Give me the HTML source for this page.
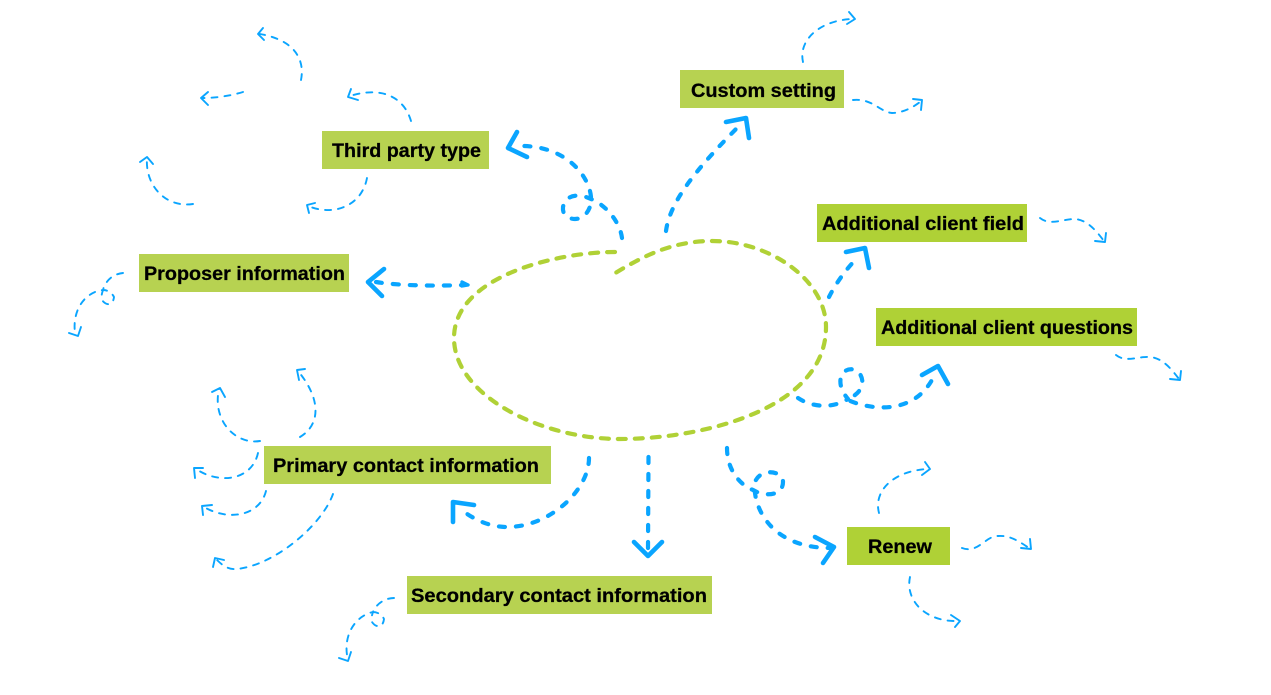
<!DOCTYPE html>
<html>
<head>
<meta charset="utf-8">
<style>
html,body{margin:0;padding:0;background:#fff;width:1271px;height:695px;overflow:hidden}
svg{display:block}
text{font-family:"Liberation Sans",sans-serif;font-weight:700;font-size:19.7px;fill:#000;stroke:#000;stroke-width:.25px}
.g{fill:none;stroke:#b0d136;stroke-width:4.2;stroke-dasharray:8 9;stroke-linecap:round}
.t{fill:none;stroke:#0aa5ff;stroke-width:4.2;stroke-dasharray:6 11;stroke-linecap:round;stroke-linejoin:round}
.h{fill:none;stroke:#0aa5ff;stroke-width:4.6;stroke-linecap:round;stroke-linejoin:round}
.n{fill:none;stroke:#0aa5ff;stroke-width:1.9;stroke-dasharray:6 7;stroke-linecap:round;stroke-linejoin:round}
.m{fill:none;stroke:#0aa5ff;stroke-width:1.9;stroke-linecap:round;stroke-linejoin:round}
</style>
</head>
<body>
<svg width="1271" height="695" viewBox="0 0 1271 695" xmlns="http://www.w3.org/2000/svg">
<!-- central blob -->
<path class="g" d="M615 252C560 252 454 275 454 338C454 395 540 439 620 439C700 439 826 410 826 327C826 280 770 241 712 241C670 241 640 258 612 275"/>

<!-- boxes -->
<rect x="322" y="131" width="167" height="38" fill="#b7d251"/>
<rect x="139" y="254" width="210" height="38" fill="#b7d251"/>
<rect x="680" y="70" width="164" height="38" fill="#b7d251"/>
<rect x="817" y="204" width="210" height="38" fill="#afd136"/>
<rect x="876" y="308" width="261" height="38" fill="#afd136"/>
<rect x="847" y="527" width="103" height="38" fill="#afd136"/>
<rect x="264" y="446" width="287" height="38" fill="#b7d251"/>
<rect x="407" y="576" width="305" height="38" fill="#b7d251"/>

<text x="332" y="157" textLength="149" lengthAdjust="spacingAndGlyphs">Third party type</text>
<text x="144" y="280" textLength="201" lengthAdjust="spacingAndGlyphs">Proposer information</text>
<text x="691" y="97" textLength="145" lengthAdjust="spacingAndGlyphs">Custom setting</text>
<text x="822" y="230" textLength="202" lengthAdjust="spacingAndGlyphs">Additional client field</text>
<text x="881" y="334" textLength="252" lengthAdjust="spacingAndGlyphs">Additional client questions</text>
<text x="868" y="553" textLength="64" lengthAdjust="spacingAndGlyphs">Renew</text>
<text x="273" y="472" textLength="266" lengthAdjust="spacingAndGlyphs">Primary contact information</text>
<text x="411" y="602" textLength="296" lengthAdjust="spacingAndGlyphs">Secondary contact information</text>

<!-- thick connectors -->
<path class="t" d="M622 238C620 222 606 205 591 199C581 194 566 193 563 207C562 216 570 219 575 219C583 219 592 211 591 197C589 175 565 145 519 146"/>
<path class="h" d="M517 132L508 148L527 157"/>

<path class="t" d="M666 231C670 200 700 165 741 124"/>
<path class="h" d="M726 122L746 118L749 138"/>

<path class="t" d="M829 297C835 285 845 270 859 256"/>
<path class="h" d="M846 252L865 248L869 268"/>

<path class="t" d="M798 398C810 406 830 410 848 399C842 392 839 384 841 377C843 370 850 368 855 370C862 373 864 382 861 388C858 394 852 397 848 400C870 410 915 416 934 376"/>
<path class="h" d="M922 375L938 366L948 384"/>

<path class="t" d="M648.500 457L648 548"/>
<path class="h" d="M634 542L648 556L662 542"/>

<path class="t" d="M727 448C727 470 740 485 753 490C765 497 783 496 783 482C783 470 760 468 755 482C752 500 765 548 831 548"/>
<path class="h" d="M815 537L834 547L823 563"/>

<path class="t" d="M589 458C589 490 550 527 507 527C490 527 475 520 463 511"/>
<path class="h" d="M474 505L453 502L453 522"/>

<path class="t" d="M376 282C400 286 440 286 464 285"/>
<path class="h" d="M384 269L368 282L382 296"/>
<path class="h" d="M462 282L468 285L462 286" style="stroke-width:3.400"/>

<!-- thin connectors -->
<path class="n" d="M301 80C305 60 295 40 260 34"/>
<path class="m" d="M263 28L258 34L264 40"/>

<path class="n" d="M243 92C230 96 215 98 203 98"/>
<path class="m" d="M208 92L201 98L208 105"/>

<path class="n" d="M411 121C405 100 385 85 350 96"/>
<path class="m" d="M351 89L348 97L358 100"/>

<path class="n" d="M193 204C165 208 145 185 147 158"/>
<path class="m" d="M140 162L147 157L153 164"/>

<path class="n" d="M367 178C362 205 335 217 308 206"/>
<path class="m" d="M315 203L307 205L309 213"/>

<path class="n" d="M123 273C112 274 105 282 103 290C108 290 112 293 114 297C113 306 106 306 102 300C101 296 102 293 103 290C85 292 72 310 75 333"/>
<path class="m" d="M69 333L78 336L81 327"/>

<path class="n" d="M803 62C798 40 820 20 853 19"/>
<path class="m" d="M849 12L855 19L847 24"/>

<path class="n" d="M853 100C872 98 880 112 892 113C902 113 912 108 920 102"/>
<path class="m" d="M913 99L922 100L921 110"/>

<path class="n" d="M1040 218C1050 226 1062 219 1075 219C1088 220 1097 232 1104 241"/>
<path class="m" d="M1095 241L1105 242L1106 233"/>

<path class="n" d="M1116 355C1126 363 1138 356 1150 357C1163 358 1172 370 1179 379"/>
<path class="m" d="M1170 379L1180 380L1181 371"/>

<path class="n" d="M879 513C873 490 895 470 929 469"/>
<path class="m" d="M925 462L930 469L922 475"/>

<path class="n" d="M962 548C978 554 985 536 998 536C1010 535 1020 542 1029 548"/>
<path class="m" d="M1030 539L1031 549L1021 548"/>

<path class="n" d="M910 577C905 600 925 622 958 621"/>
<path class="m" d="M951 615L960 621L955 627"/>

<path class="n" d="M300 437C320 425 322 400 298 371"/>
<path class="m" d="M305 369L297 370L299 380"/>

<path class="n" d="M260 441C235 445 212 420 219 389"/>
<path class="m" d="M212 392L220 388L225 397"/>

<path class="n" d="M258 453C252 480 220 485 196 469"/>
<path class="m" d="M203 468L194 468L195 478"/>

<path class="n" d="M266 491C260 515 230 522 204 507"/>
<path class="m" d="M212 505L202 506L203 515"/>

<path class="n" d="M333 494C322 525 275 565 237 569C228 570 222 565 216 559"/>
<path class="m" d="M224 560L215 558L213 567"/>

<path class="n" d="M394 598C385 598 376 604 373 612C378 612 382 615 384 619C383 628 376 628 372 622C371 618 372 615 373 612C355 616 342 636 348 660"/>
<path class="m" d="M339 658L348 661L351 652"/>
</svg>
</body>
</html>
